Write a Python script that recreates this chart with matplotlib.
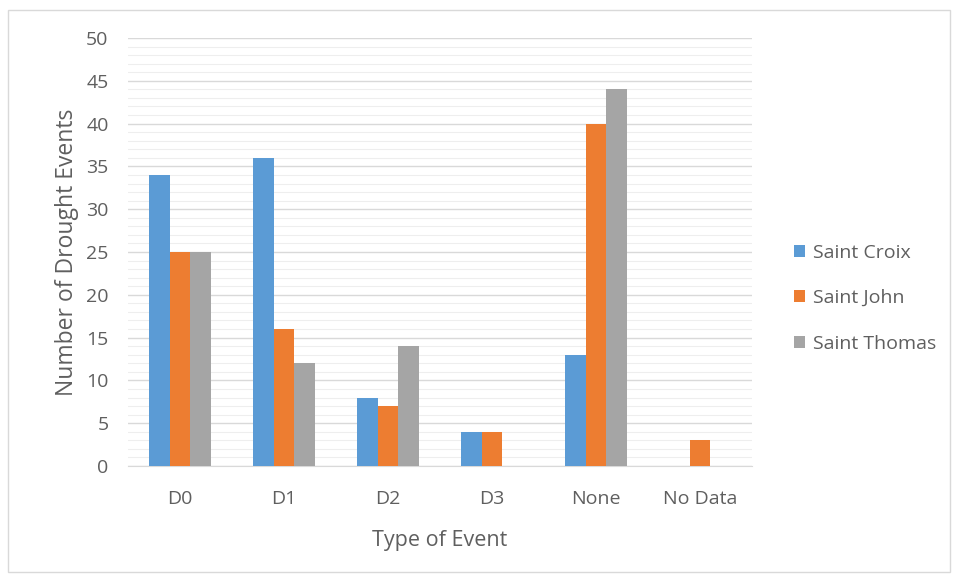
import matplotlib
matplotlib.use("Agg")
import matplotlib.pyplot as plt
import numpy as np
from matplotlib.patches import Rectangle

categories = ["D0", "D1", "D2", "D3", "None", "No Data"]
saint_croix = [34, 36, 8, 4, 13, 0]
saint_john = [25, 16, 7, 4, 40, 3]
saint_thomas = [25, 12, 14, 0, 44, 0]
series_names = ["Saint Croix", "Saint John", "Saint Thomas"]
colors = ["#5B9BD5", "#ED7D31", "#A5A5A5"]
yticks = [0, 5, 10, 15, 20, 25, 30, 35, 40, 45, 50]

plt.rcParams['font.family'] = ['Open Sans', 'DejaVu Sans']
text_color = "#5F5F5F"

fig = plt.figure(figsize=(9.56, 5.79), dpi=100)
fig.patches.append(Rectangle((8/956, 1-572/579), 942/956, 562/579, transform=fig.transFigure,
                             fill=False, edgecolor="#D9D9D9", linewidth=1))
ax = fig.add_axes([128/956, 1-466/579, 624/956, (466-38)/579])

x = np.arange(len(categories))
w = 0.2
for i, (vals, name, c) in enumerate(zip([saint_croix, saint_john, saint_thomas], series_names, colors)):
    ax.bar(x + (i-1)*w, vals, width=w, color=c, label=name, zorder=3)

ax.set_xlim(-0.5, len(categories)-0.5)
ax.set_ylim(0, 50)
ax.set_yticks(yticks)
ax.set_yticks(np.arange(0, 51, 1), minor=True)
ax.set_xticks(x)
ax.set_xticklabels(categories)
ax.grid(axis='y', which='major', color="#D9D9D9", linewidth=1, zorder=0)
ax.grid(axis='y', which='minor', color="#EEEEEE", linewidth=0.8, zorder=0)
for s in ["top", "right", "left"]:
    ax.spines[s].set_visible(False)
ax.spines["bottom"].set_color("#D9D9D9")
ax.tick_params(axis='both', which='both', length=0, colors=text_color, labelsize=14)
ax.tick_params(axis='y', pad=14)
ax.tick_params(axis='x', pad=17)
ax.set_ylabel("Number of Drought Events", color=text_color, fontsize=16.5, labelpad=5)
ax.set_xlabel("Type of Event", color=text_color, fontsize=15.5, labelpad=16)

leg = ax.legend(loc="center left", bbox_to_anchor=(1.04, 0.392), frameon=False, fontsize=14,
                handlelength=0.55, handleheight=0.55, handletextpad=0.4, labelspacing=1.42,
                labelcolor=text_color)

fig.savefig("out.png", dpi=100)
